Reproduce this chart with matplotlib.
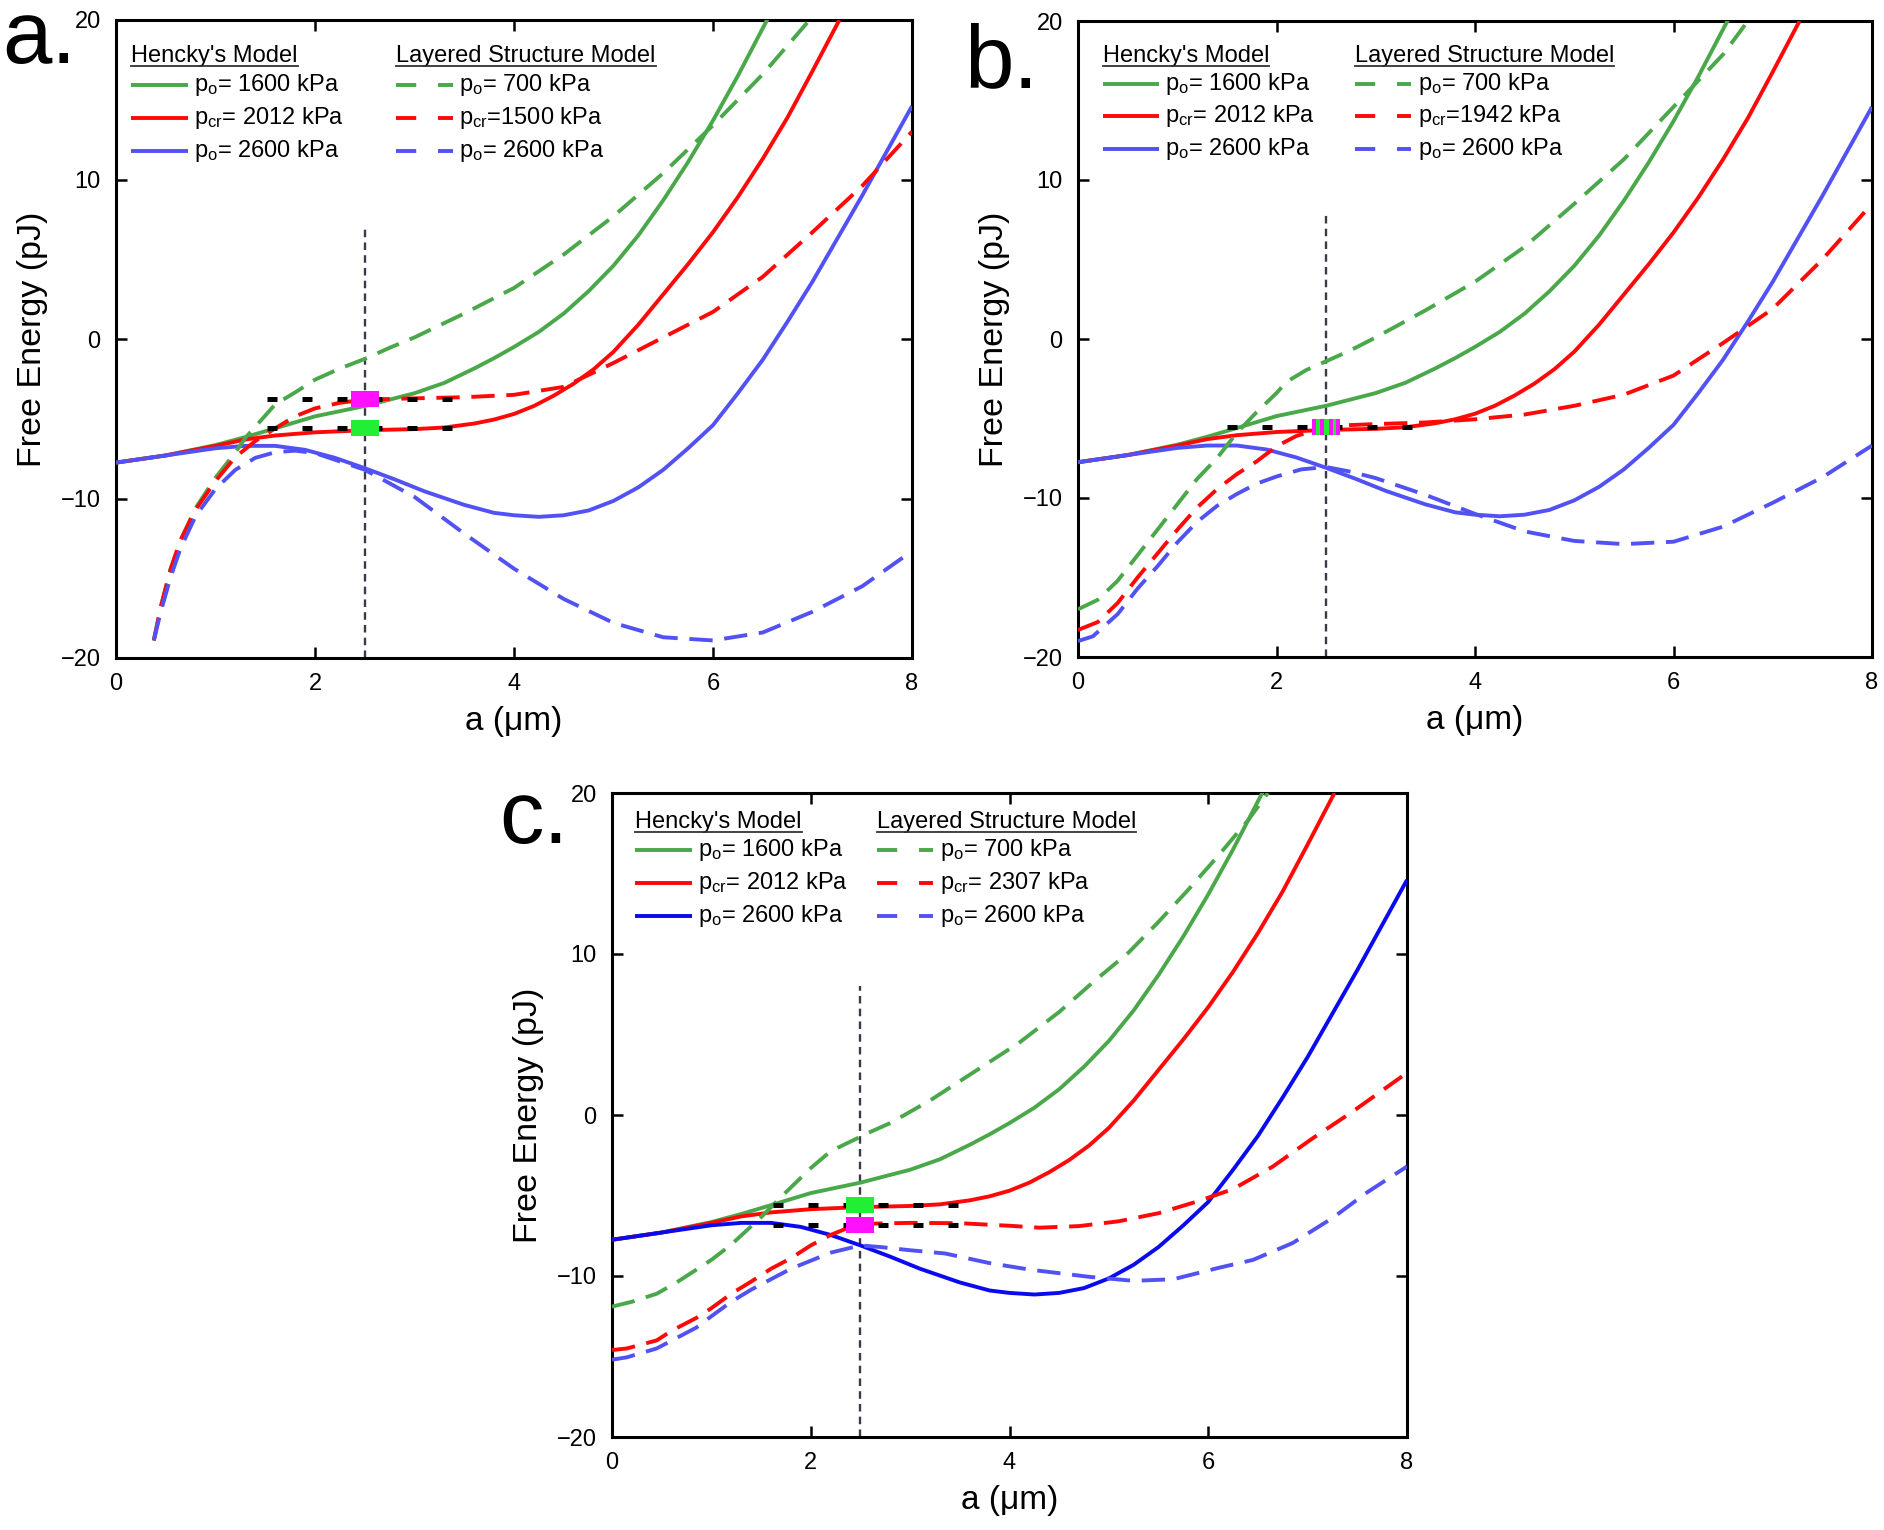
import matplotlib
matplotlib.use('Agg')
import matplotlib.pyplot as plt
from matplotlib.path import Path
from matplotlib.lines import Line2D

plt.rcParams['font.family'] = ['Liberation Sans', 'DejaVu Sans']
plt.rcParams['mathtext.fontset'] = 'custom'
plt.rcParams['mathtext.rm'] = 'Liberation Sans'
plt.rcParams['mathtext.it'] = 'Liberation Sans'

# ---------------- data ----------------
# Hencky's model (same in all panels)
h_green_x = [0, 0.5, 1.0, 1.3, 1.6, 2.0, 2.5, 3.0, 3.3, 3.6, 3.8, 4.0, 4.25, 4.5, 4.75, 5.0, 5.25, 5.5, 5.75, 6.0, 6.25, 6.56]
h_green_y = [-7.75, -7.3, -6.65, -6.15, -5.6, -4.85, -4.2, -3.4, -2.75, -1.85, -1.2, -0.5, 0.45, 1.6, 3.0, 4.6, 6.5, 8.7, 11.1, 13.7, 16.5, 20.2]
h_red_x = [0, 0.5, 1.0, 1.3, 1.6, 2.0, 2.5, 3.0, 3.3, 3.6, 3.8, 4.0, 4.2, 4.4, 4.6, 4.8, 5.0, 5.25, 5.5, 5.75, 6.0, 6.25, 6.5, 6.75, 7.0, 7.27]
h_red_y = [-7.75, -7.3, -6.7, -6.3, -6.05, -5.85, -5.72, -5.65, -5.55, -5.3, -5.05, -4.7, -4.2, -3.55, -2.8, -1.9, -0.8, 0.9, 2.8, 4.7, 6.7, 8.9, 11.3, 13.9, 16.8, 20.0]
h_blue_x = [0, 0.5, 1.0, 1.3, 1.6, 1.9, 2.2, 2.5, 2.8, 3.1, 3.5, 3.8, 4.0, 4.25, 4.5, 4.75, 5.0, 5.25, 5.5, 5.75, 6.0, 6.25, 6.5, 6.75, 7.0, 7.25, 7.5, 7.75, 8.0]
h_blue_y = [-7.75, -7.3, -6.85, -6.7, -6.7, -6.95, -7.45, -8.1, -8.8, -9.55, -10.4, -10.9, -11.05, -11.15, -11.05, -10.75, -10.15, -9.3, -8.2, -6.85, -5.4, -3.4, -1.3, 1.1, 3.6, 6.3, 9.0, 11.8, 14.6]

# Layered structure model, panel a
la_green_x = [0.38, 0.45, 0.55, 0.65, 0.8, 1.0, 1.2, 1.3, 1.4, 1.6, 1.8, 2.0, 2.25, 2.5, 2.75, 3.0, 3.5, 4.0, 4.5, 5.0, 5.5, 6.0, 6.5, 6.97]
la_green_y = [-18.9, -16.8, -14.4, -12.6, -10.6, -8.7, -7.1, -6.2, -5.5, -4.1, -3.35, -2.55, -1.85, -1.25, -0.55, 0.1, 1.6, 3.2, 5.3, 7.7, 10.4, 13.4, 16.6, 20.0]
la_red_x = [0.38, 0.45, 0.55, 0.65, 0.8, 1.0, 1.2, 1.4, 1.6, 1.8, 2.0, 2.25, 2.5, 3.0, 3.5, 4.0, 4.5, 5.0, 5.5, 6.0, 6.5, 7.0, 7.5, 8.0]
la_red_y = [-18.9, -16.8, -14.4, -12.6, -10.7, -8.9, -7.4, -6.4, -5.6, -4.85, -4.35, -4.0, -3.8, -3.72, -3.65, -3.5, -3.0, -1.5, 0.1, 1.7, 3.9, 6.7, 9.6, 13.0]
la_blue_x = [0.38, 0.45, 0.55, 0.65, 0.8, 1.0, 1.2, 1.4, 1.6, 1.8, 2.0, 2.5, 3.0, 3.5, 4.0, 4.5, 5.0, 5.5, 6.0, 6.5, 7.0, 7.5, 8.0]
la_blue_y = [-18.9, -17.1, -14.9, -13.1, -11.1, -9.4, -8.2, -7.45, -7.1, -7.0, -7.15, -8.2, -9.9, -12.2, -14.4, -16.3, -17.8, -18.7, -18.9, -18.4, -17.1, -15.5, -13.3]

# panel b
lb_green_x = [0, 0.2, 0.4, 0.6, 0.8, 1.0, 1.2, 1.4, 1.5, 1.6, 1.8, 2.0, 2.1, 2.3, 2.5, 2.75, 3.0, 3.5, 4.0, 4.5, 5.0, 5.5, 6.0, 6.5, 6.75]
lb_green_y = [-17.0, -16.4, -15.2, -13.6, -12.0, -10.4, -8.8, -7.5, -6.7, -5.9, -4.6, -3.4, -2.7, -1.95, -1.4, -0.7, 0.1, 1.8, 3.6, 5.8, 8.5, 11.3, 14.6, 17.9, 20.0]
lb_red_x = [0, 0.2, 0.4, 0.6, 0.8, 1.0, 1.2, 1.4, 1.6, 1.8, 2.0, 2.2, 2.4, 2.6, 3.0, 3.5, 4.0, 4.5, 5.0, 5.5, 6.0, 6.5, 7.0, 7.5, 8.0]
lb_red_y = [-18.3, -17.8, -16.6, -15.0, -13.5, -12.0, -10.6, -9.45, -8.5, -7.7, -6.75, -6.1, -5.7, -5.45, -5.35, -5.25, -5.05, -4.75, -4.2, -3.5, -2.3, -0.25, 1.9, 5.0, 8.5]
lb_blue_x = [0, 0.15, 0.4, 0.6, 0.8, 1.0, 1.2, 1.4, 1.6, 1.8, 2.0, 2.25, 2.5, 2.75, 3.0, 3.5, 4.0, 4.5, 5.0, 5.5, 6.0, 6.5, 7.0, 7.5, 8.0]
lb_blue_y = [-19.0, -18.7, -17.3, -15.7, -14.3, -12.8, -11.5, -10.5, -9.75, -9.1, -8.65, -8.2, -8.05, -8.35, -8.75, -9.8, -11.0, -12.1, -12.7, -12.9, -12.75, -11.8, -10.3, -8.7, -6.7]

# panel c
lc_green_x = [0, 0.2, 0.45, 0.65, 0.85, 1.0, 1.2, 1.35, 1.5, 1.7, 1.85, 2.0, 2.2, 2.4, 2.6, 2.8, 3.0, 3.2, 3.5, 3.9, 4.1, 4.5, 4.85, 5.2, 5.5, 5.8, 6.1, 6.4, 6.6]
lc_green_y = [-11.9, -11.6, -11.1, -10.4, -9.6, -9.0, -8.05, -7.2, -6.35, -5.1, -4.2, -3.3, -2.25, -1.65, -1.05, -0.5, 0.2, 0.9, 2.1, 3.7, 4.5, 6.4, 8.3, 10.1, 12.0, 14.0, 16.1, 18.3, 20.0]
lc_red_x = [0, 0.15, 0.45, 0.6, 0.85, 1.0, 1.2, 1.4, 1.6, 1.8, 2.0, 2.2, 2.4, 2.6, 3.0, 3.5, 4.0, 4.3, 4.7, 5.1, 5.5, 5.9, 6.25, 6.65, 7.05, 7.45, 7.95]
lc_red_y = [-14.6, -14.5, -14.0, -13.4, -12.6, -12.0, -11.1, -10.35, -9.55, -8.9, -8.1, -7.45, -6.95, -6.75, -6.7, -6.72, -6.88, -7.0, -6.9, -6.6, -6.1, -5.35, -4.6, -3.2, -1.45, 0.2, 2.4]
lc_blue_x = [0, 0.15, 0.45, 0.85, 1.0, 1.2, 1.4, 1.6, 1.8, 2.0, 2.2, 2.5, 2.7, 3.0, 3.35, 3.5, 3.8, 4.2, 4.8, 5.25, 5.65, 6.1, 6.45, 6.85, 7.25, 7.6, 8.0]
lc_blue_y = [-15.2, -15.05, -14.5, -13.2, -12.5, -11.6, -10.85, -10.2, -9.55, -9.05, -8.55, -8.1, -8.2, -8.4, -8.6, -8.8, -9.2, -9.6, -10.05, -10.3, -10.2, -9.5, -9.0, -7.95, -6.4, -4.8, -3.2]

# critical-point markers and guide lines
crit_x = 2.5
a_levels = [-3.75, -5.6]          # magenta (layered), green (Hencky)
b_levels = [-5.55]
c_levels = [-5.6, -6.85]          # green (Hencky), magenta (layered)
guide_a = (1.52, 3.4)
guide_b = (1.5, 3.4)
guide_c = (1.62, 3.5)
vline_top = {'a': 7.0, 'b': 8.0, 'c': 8.0}

hencky_labels = ['p$_\\mathrm{o}$= 1600 kPa', 'p$_\\mathrm{cr}$= 2012 kPa', 'p$_\\mathrm{o}$= 2600 kPa']
layer_labels = {
    'a': ['p$_\\mathrm{o}$= 700 kPa', 'p$_\\mathrm{cr}$=1500 kPa', 'p$_\\mathrm{o}$= 2600 kPa'],
    'b': ['p$_\\mathrm{o}$= 700 kPa', 'p$_\\mathrm{cr}$=1942 kPa', 'p$_\\mathrm{o}$= 2600 kPa'],
    'c': ['p$_\\mathrm{o}$= 700 kPa', 'p$_\\mathrm{cr}$= 2307 kPa', 'p$_\\mathrm{o}$= 2600 kPa'],
}
x_ticks = [0, 2, 4, 6, 8]
y_ticks = [-20, -10, 0, 10, 20]

# ---------------- style ----------------
GREEN = '#4aa84a'
RED = '#ff0808'
BLUE = '#5252f4'
BLUE_DARK = '#0a0aee'
MAGENTA = '#ff10ff'
SQGREEN = '#22ee33'
LW = 2.8
DASH = (6.0, 3.0)

W, H = 1884, 1530
fig = plt.figure(figsize=(W / 100, H / 100), dpi=100)

axes_px = {'a': (116, 20, 912, 658), 'b': (1078, 21, 1872, 657), 'c': (612, 793, 1407, 1437)}


def make_ax(key):
    l, t, r, b = axes_px[key]
    return fig.add_axes([l / W, 1 - b / H, (r - l) / W, (b - t) / H])


rect_path = Path([(-1, -0.56), (1, -0.56), (1, 0.56), (-1, 0.56), (-1, -0.56)],
                 [Path.MOVETO, Path.LINETO, Path.LINETO, Path.LINETO, Path.CLOSEPOLY])
stripes = []
codes = []
for x0, x1 in [(-1.0, -0.72), (-0.4, -0.12), (0.2, 0.48), (0.72, 1.0)]:
    stripes += [(x0, -0.56), (x1, -0.56), (x1, 0.56), (x0, 0.56), (x0, -0.56)]
    codes += [Path.MOVETO, Path.LINETO, Path.LINETO, Path.LINETO, Path.CLOSEPOLY]
stripe_path = Path(stripes, codes)

legend_layout = {
    'a': dict(c1=0.019, c2=0.352, hy=0.943, rows=[0.898, 0.846, 0.795]),
    'b': dict(c1=0.031, c2=0.349, hy=0.945, rows=[0.901, 0.850, 0.799]),
    'c': dict(c1=0.029, c2=0.333, hy=0.955, rows=[0.911, 0.860, 0.809]),
}
LEG_LEN = 0.071
headers = []


def draw_panel(key, dashed, blue_solid_color, guide, levels, squares):
    ax = make_ax(key)
    gx, gy, rx, ry, bx, by = dashed
    ax.plot(h_green_x, h_green_y, color=GREEN, lw=LW, solid_capstyle='butt', zorder=3)
    ax.plot(h_red_x, h_red_y, color=RED, lw=LW, solid_capstyle='butt', zorder=3)
    ax.plot(h_blue_x, h_blue_y, color=blue_solid_color, lw=LW, solid_capstyle='butt', zorder=3)
    ax.plot(gx, gy, color=GREEN, lw=LW, dashes=DASH, dash_capstyle='butt', zorder=3)
    ax.plot(rx, ry, color=RED, lw=LW, dashes=DASH, dash_capstyle='butt', zorder=3)
    ax.plot(bx, by, color=BLUE, lw=LW, dashes=DASH, dash_capstyle='butt', zorder=3)
    # vertical guide
    ax.plot([crit_x, crit_x], [-20, vline_top[key]], color='#3a3a48', lw=1.7,
            dashes=(3.2, 2.2), zorder=2)
    # horizontal black dotted guides
    for lv in levels:
        ax.plot([guide[0], guide[1]], [lv, lv], color='black', lw=3.6,
                dashes=(2.0, 5.0), dash_capstyle='butt', zorder=5)
    for lv, col, kind in squares:
        if kind == 'stripe':
            ax.plot([crit_x], [lv], marker=rect_path, ms=20, color=SQGREEN, mew=0, zorder=6)
            ax.plot([crit_x], [lv], marker=stripe_path, ms=20, color=MAGENTA, mew=0, zorder=7)
        else:
            ax.plot([crit_x], [lv], marker=rect_path, ms=20, color=col, mew=0, zorder=6)
    ax.set_xlim(0, 8)
    ax.set_ylim(-20, 20)
    ax.set_xticks(x_ticks)
    ax.set_yticks(y_ticks)
    ax.tick_params(direction='in', length=8, width=1.8, top=True, right=True,
                   labelsize=17, pad=11)
    for s in ax.spines.values():
        s.set_linewidth(2.2)
    ax.set_xlabel('a (\u03bcm)', fontsize=24, labelpad=8)
    ax.set_ylabel('Free Energy (pJ)', fontsize=24.5, labelpad=9)

    # legend
    lay = legend_layout[key]
    t1 = ax.text(lay['c1'], lay['hy'], "Hencky's Model", transform=ax.transAxes,
                 fontsize=17, va='center', ha='left')
    t2 = ax.text(lay['c2'], lay['hy'], 'Layered Structure Model', transform=ax.transAxes,
                 fontsize=17, va='center', ha='left')
    headers.append((ax, t1, lay['hy']))
    headers.append((ax, t2, lay['hy']))
    cols = [GREEN, RED, blue_solid_color]
    dcols = [GREEN, RED, BLUE]
    for i, y in enumerate(lay['rows']):
        ax.add_line(Line2D([lay['c1'], lay['c1'] + LEG_LEN], [y, y], transform=ax.transAxes,
                           color=cols[i], lw=LW, solid_capstyle='butt'))
        ax.text(lay['c1'] + LEG_LEN + 0.008, y, hencky_labels[i], transform=ax.transAxes,
                fontsize=17, va='center', ha='left')
        ax.add_line(Line2D([lay['c2'], lay['c2'] + LEG_LEN], [y, y], transform=ax.transAxes,
                           color=dcols[i], lw=LW, dashes=(5.2, 5.6), dash_capstyle='butt'))
        ax.text(lay['c2'] + LEG_LEN + 0.008, y, layer_labels[key][i], transform=ax.transAxes,
                fontsize=17, va='center', ha='left')
    return ax


ax_a = draw_panel('a', (la_green_x, la_green_y, la_red_x, la_red_y, la_blue_x, la_blue_y),
                  BLUE, guide_a, a_levels,
                  [(a_levels[0], MAGENTA, 'solid'), (a_levels[1], SQGREEN, 'solid')])
ax_b = draw_panel('b', (lb_green_x, lb_green_y, lb_red_x, lb_red_y, lb_blue_x, lb_blue_y),
                  BLUE, guide_b, b_levels,
                  [(b_levels[0], None, 'stripe')])
ax_c = draw_panel('c', (lc_green_x, lc_green_y, lc_red_x, lc_red_y, lc_blue_x, lc_blue_y),
                  BLUE_DARK, guide_c, c_levels,
                  [(c_levels[0], SQGREEN, 'solid'), (c_levels[1], MAGENTA, 'solid')])

# panel letters
fig.text(0.0010, 0.9588, 'a.', fontsize=64, ha='left', va='baseline')
fig.text(0.5120, 0.943, 'b.', fontsize=64, ha='left', va='baseline')
fig.text(0.2650, 0.449, 'c.', fontsize=64, ha='left', va='baseline')

# underline headers
fig.canvas.draw()
renderer = fig.canvas.get_renderer()
inv = fig.transFigure.inverted()
for ax, t, hy in headers:
    bb = t.get_window_extent(renderer)
    x0, y0 = inv.transform((bb.x0, bb.y0 + 1))
    x1, _ = inv.transform((bb.x1, bb.y0 + 1))
    fig.add_artist(Line2D([x0, x1], [y0, y0], transform=fig.transFigure,
                          color='#333333', lw=1.3))

fig.savefig('out.png', dpi=100)
